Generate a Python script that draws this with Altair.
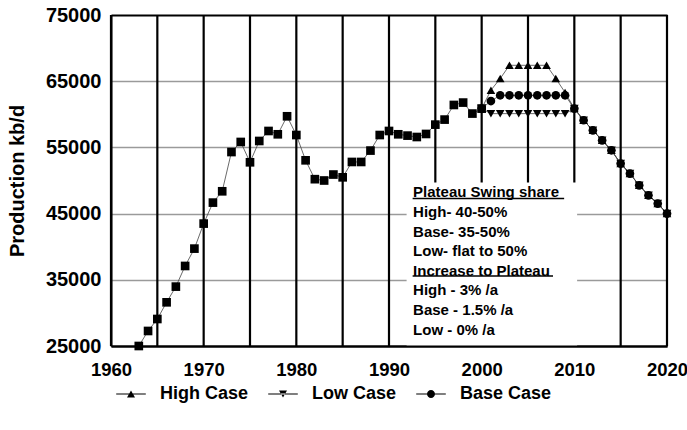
import altair as alt
import pandas as pd

# ---------------- data ----------------
hist_years = list(range(1963, 2001))
hist_vals = [25000, 27270, 29080, 31600, 33970, 37090, 39710, 43490, 46660, 48370,
             54300, 55820, 52750, 55970, 57480, 56980, 59700, 56870, 53050, 50200,
             50000, 50900, 50480, 52800, 52800, 54520, 56870, 57480, 56980, 56780,
             56570, 57030, 58440, 59200, 61410, 61770, 60110, 60860]

case_years = list(range(2000, 2021))
high_vals = [60860, 63640, 65400, 67400, 67400, 67400, 67400, 67400, 65400, 63300,
             60860, 59100, 57580, 56070, 54560, 52550, 51040, 49270, 47760, 46510, 45000]
low_vals = [60860, 60100, 60100, 60100, 60100, 60100, 60100, 60100, 60100, 60100,
            60860, 59100, 57580, 56070, 54560, 52550, 51040, 49270, 47760, 46510, 45000]
base_vals = [60860, 62000, 62870, 62870, 62870, 62870, 62870, 62870, 62870, 62870,
             60860, 59100, 57580, 56070, 54560, 52550, 51040, 49270, 47760, 46510, 45000]

case_names = ["High Case", "Low Case", "Base Case"]
grid_years = [1960, 1965, 1970, 1975, 1980, 1985, 1990, 1995, 2000, 2005, 2010, 2015, 2020]
x_tick_labels = [1960, 1970, 1980, 1990, 2000, 2010, 2020]
y_tick_labels = [25000, 35000, 45000, 55000, 65000, 75000]

note_lines = ["Plateau Swing share", "High- 40-50%", "Base- 35-50%", "Low- flat to 50%",
              "Increase to Plateau", "High - 3% /a", "Base - 1.5% /a", "Low - 0% /a"]

# ---------------- tables ----------------
FONT = "Liberation Sans"
hist_df = pd.DataFrame({"year": hist_years, "value": hist_vals})
case_df = pd.concat([
    pd.DataFrame({"year": case_years, "value": high_vals, "case": "High Case"}),
    pd.DataFrame({"year": case_years, "value": low_vals, "case": "Low Case"}),
    pd.DataFrame({"year": case_years, "value": base_vals, "case": "Base Case"}),
], ignore_index=True)
grid_df = pd.DataFrame({"year": grid_years})

note_x = 1992.6
note_top = 48200
note_step = 2960
note_df = pd.DataFrame({
    "year": [note_x] * len(note_lines),
    "value": [note_top - i * note_step for i in range(len(note_lines))],
    "text": note_lines,
})
underline_df = pd.DataFrame({
    "year": [1992.55, 1992.55],
    "year2": [2008.9, 2007.7],
    "value": [47270, 35570],
})
box_df = pd.DataFrame({"year": [1991.9], "year2": [2010.3], "value": [25000], "value2": [49700]})

xscale = alt.Scale(domain=[1960, 2020], nice=False, zero=False)
yscale = alt.Scale(domain=[25000, 75000], nice=False, zero=False)

x_axis = alt.Axis(values=x_tick_labels, grid=False, ticks=False, domainColor="black",
                  domainWidth=2, labelFont=FONT, labelFontSize=18.5, labelFontWeight="bold",
                  labelColor="black", labelPadding=14, labelFlush=False,
                  labelOverlap=False, format="d", title=None, zindex=1)
y_axis = alt.Axis(values=y_tick_labels, grid=True, ticks=False, domainColor="black",
                  domainWidth=2, labelFont=FONT, labelFontSize=20, labelFontWeight="bold",
                  labelColor="black", labelPadding=10, format="d",
                  gridColor={"condition": {"test": "datum.value == 25000 || datum.value == 75000",
                                           "value": "black"}, "value": "#9a9a9a"},
                  gridWidth={"condition": {"test": "datum.value == 25000 || datum.value == 75000",
                                           "value": 2}, "value": 1.4},
                  title="Production kb/d", titleFont=FONT, titleFontSize=20,
                  titleFontWeight="bold", titleColor="black", titlePadding=18)

X = alt.X("year:Q", scale=xscale, axis=x_axis)
Y = alt.Y("value:Q", scale=yscale, axis=y_axis)

vlines = alt.Chart(grid_df).mark_rule(color="black", strokeWidth=2.2).encode(x=X)

box = alt.Chart(box_df).mark_rect(color="white", opacity=1).encode(
    x=X, x2="year2:Q", y=Y, y2="value2:Q")

hist_line = alt.Chart(hist_df).mark_line(color="#444", strokeWidth=0.8).encode(x=X, y=Y)
hist_pts = alt.Chart(hist_df).mark_point(shape="square", filled=True, color="black",
                                         size=75, opacity=1).encode(x=X, y=Y)

case_line = alt.Chart(case_df).mark_line(color="#444", strokeWidth=0.8).encode(
    x=X, y=Y, detail="case:N")
case_pts = alt.Chart(case_df).mark_point(filled=True, color="black", size=75, opacity=1).encode(
    x=X, y=Y,
    shape=alt.Shape("case:N", scale=alt.Scale(domain=case_names,
                                              range=["triangle-up", "triangle-down", "circle"]),
                    legend=None))

legend_shapes = [
    "M-3.7,-0.13H3.7V0.13H-3.7ZM-1,0.85L0,-0.9L1,0.85Z",
    "M-3.7,-0.13H3.7V0.13H-3.7ZM-1,-0.85L0,0.9L1,-0.85Z",
    "M-3.7,-0.13H3.7V0.13H-3.7ZM1,0A1,1,0,1,1,-1,0A1,1,0,1,1,1,0Z",
]
legend_layer = alt.Chart(case_df).transform_filter("false").mark_point(
    filled=True, color="black", opacity=1, size=64).encode(
    x=X, y=Y,
    shape=alt.Shape("case:N", scale=alt.Scale(domain=case_names, range=legend_shapes),
                    legend=alt.Legend(title=None, orient="none", direction="horizontal",
                                      legendX=11, legendY=370, labelFont=FONT,
                                      labelFontSize=18, labelFontWeight="bold",
                                      labelColor="black", symbolSize=64, labelOffset=20,
                                      columnPadding=16, symbolFillColor="black",
                                      padding=0)))

notes = alt.Chart(note_df).mark_text(align="left", baseline="middle", font=FONT, fontSize=15,
                                     fontWeight="bold", color="black").encode(
    x=X, y=Y, text="text:N")
underlines = alt.Chart(underline_df).mark_rule(color="black", strokeWidth=1.5).encode(
    x=X, x2="year2:Q", y=Y)

chart = alt.layer(
    hist_line, vlines, box, hist_pts, case_line, case_pts, legend_layer, notes, underlines
).resolve_scale(shape="independent").resolve_legend(shape="independent").properties(
    width=556, height=331,
    autosize=alt.AutoSizeParams(type="none"),
    padding={"left": 111, "top": 15, "right": 20, "bottom": 84},
).configure_view(stroke=None).configure(background="white")

chart.save("out.html", embed_options={"renderer": "svg", "actions": False})
